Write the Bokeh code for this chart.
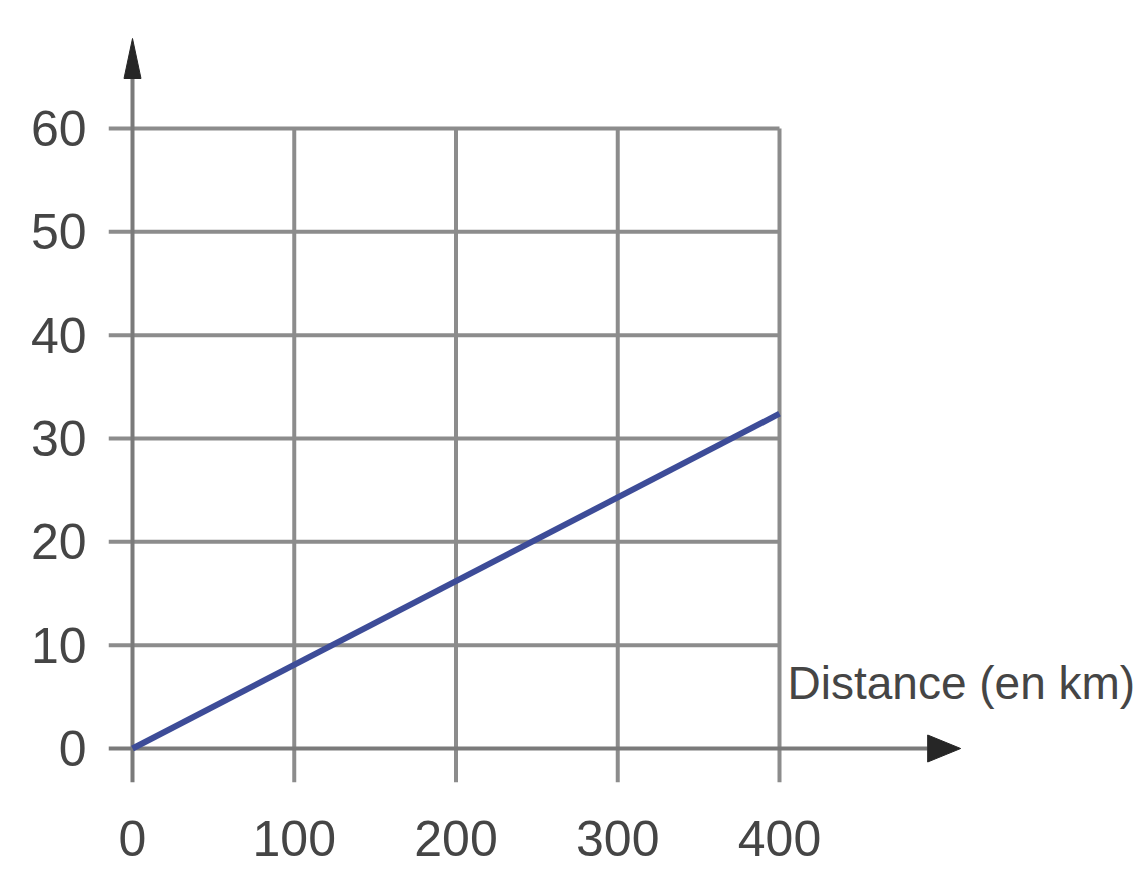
from bokeh.plotting import figure
from bokeh.models import Range1d, FixedTicker, Label
from bokeh.embed import file_html
from bokeh.resources import INLINE

# ---- data ----
distance_km = [0, 400]
consumption = [0, 32.4]
x_ticks = [0, 100, 200, 300, 400]
y_ticks = [0, 10, 20, 30, 40, 50, 60]
x_label = "Distance (en km)"

# ---- style / layout ----
FONT = "Liberation Sans"
GRID = "#8c8c8c"
AXIS = "#7a7a7a"
HEAD = "#262626"
TXT = "#454545"

W, H = 1137, 883
FRAME_L, FRAME_R, FRAME_T, FRAME_B = 108, 1137, 30, 782
X0_PX, X400_PX = 132, 779          # pixel of x=0 and x=400
Y0_PX, Y60_PX = 748, 128           # pixel of y=0 and y=60
px_x = (X400_PX - X0_PX) / 400.0
px_y = (Y0_PX - Y60_PX) / 60.0
x_start = -(X0_PX - FRAME_L) / px_x
x_end = (FRAME_R - X0_PX) / px_x
y_start = -(FRAME_B - Y0_PX) / px_y
y_end = (Y0_PX - FRAME_T) / px_y

p = figure(width=W, height=H, output_backend="svg", toolbar_location=None,
           x_range=Range1d(x_start, x_end), y_range=Range1d(y_start, y_end),
           min_border_left=FRAME_L, min_border_right=W - FRAME_R,
           min_border_top=FRAME_T, min_border_bottom=H - FRAME_B)
p.outline_line_color = None
p.grid.visible = False
p.background_fill_color = "white"

x_max = max(x_ticks)
y_max = max(y_ticks)

# grid lines; they run a little past the axes like small ticks
p.segment(x0=x_ticks[1:], y0=[y_start] * (len(x_ticks) - 1),
          x1=x_ticks[1:], y1=[y_max] * (len(x_ticks) - 1),
          line_color=GRID, line_width=4)
p.segment(x0=[x_start] * (len(y_ticks) - 1), y0=y_ticks[1:],
          x1=[x_max] * (len(y_ticks) - 1), y1=y_ticks[1:],
          line_color=GRID, line_width=4)

# axes with arrow heads
x_tip = 512.0
y_tip = (Y0_PX - 38) / px_y
xh_len, xh_half = 33 / px_x, 13.5 / px_y
yh_len, yh_half = 40 / px_y, 8.5 / px_x
p.segment(x0=[x_start, 0], y0=[0, y_start], x1=[x_tip - xh_len, 0], y1=[0, y_tip - yh_len],
          line_color=AXIS, line_width=4)
p.patches(xs=[[x_tip, x_tip - xh_len, x_tip - xh_len], [0, -yh_half, yh_half]],
          ys=[[0, xh_half, -xh_half], [y_tip, y_tip - yh_len, y_tip - yh_len]],
          fill_color=HEAD, line_color=HEAD, line_width=1)

# the data line
p.line(distance_km, consumption, line_color="#3d4c98", line_width=6)

# axes: labels only
for ax in (p.xaxis[0], p.yaxis[0]):
    ax.axis_line_color = None
    ax.major_tick_line_color = None
    ax.minor_tick_line_color = None
    ax.major_tick_in = 0
    ax.major_tick_out = 0
    ax.major_label_text_font = FONT
    ax.major_label_text_font_size = "50px"
    ax.major_label_text_color = TXT

p.xaxis[0].ticker = FixedTicker(ticks=x_ticks)
p.yaxis[0].ticker = FixedTicker(ticks=y_ticks)
p.xaxis[0].major_label_standoff = 38
p.yaxis[0].major_label_standoff = 22

p.add_layout(Label(x=(787 - X0_PX) / px_x, y=(Y0_PX - 682) / px_y, text=x_label,
                   text_font=FONT, text_font_size="46px", text_color=TXT,
                   text_baseline="alphabetic"))

open("out.html", "w").write(file_html(p, INLINE))
